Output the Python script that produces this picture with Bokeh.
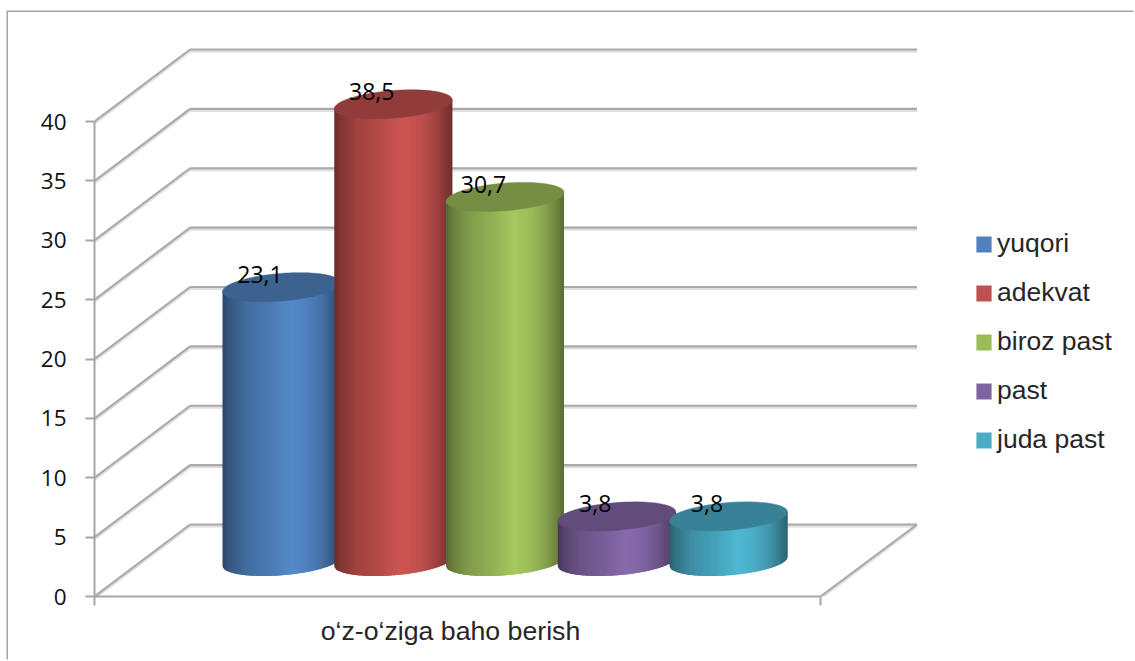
from bokeh.plotting import figure
from bokeh.embed import file_html
from bokeh.resources import INLINE
from bokeh.core.properties import value
from bokeh.models import (Range1d, LinearAxis, FixedTicker, Legend, LegendItem,
                          ColumnDataSource)
import math

# ---- data ----
category = "o‘z-o‘ziga baho berish"
series = ["yuqori", "adekvat", "biroz past", "past", "juda past"]
values = [23.1, 38.5, 30.7, 3.8, 3.8]
y_ticks = [0, 5, 10, 15, 20, 25, 30, 35, 40]
colors = ["#4F81BD", "#C0504D", "#9BBB59", "#8064A2", "#4BACC6"]

# ---- layout constants (pixels in the window) ----
PX_PER_UNIT = 11.875
AX_X, AX_Y = 94, 596         # origin of the front axes
AX_W = 726
DX, DY = 95.5, 72            # 3D depth offset
OX, OY = 8, 12               # where the chart frame starts
W, H = 1135 - OX, 661 - OY   # figure size

def X(px):  return px - AX_X

p = figure(width=W, height=H, output_backend="svg", toolbar_location=None,
           x_range=Range1d(0, OX + W - AX_X), y_range=Range1d(0, (AX_Y - OY) / PX_PER_UNIT),
           x_axis_type=None, y_axis_type=None,
           min_border_left=AX_X - OX, min_border_right=0, min_border_top=0,
           min_border_bottom=OY + H - AX_Y, outline_line_color=None)
p.grid.visible = False
p.background_fill_color = "white"
p.border_fill_color = "white"
p.margin = (OY, 0, 0, OX)
p.styles = {"box-shadow": "-1.5px -1.5px 0 0 #a3a3a3"}   # chart frame: left and top border

# value axis
yax = LinearAxis(ticker=FixedTicker(ticks=y_ticks), bounds=(0, 40))
yax.axis_line_color = "#a6a6a6"; yax.axis_line_width = 2
yax.major_tick_line_color = "#a6a6a6"; yax.major_tick_line_width = 2
yax.major_tick_out = 9; yax.major_tick_in = 0
yax.minor_tick_line_color = None
yax.major_label_standoff = 19
yax.major_label_text_font = "Open Sans"
yax.major_label_text_font_size = "22.5px"
yax.major_label_text_color = "#111111"
p.add_layout(yax, "left")

# category axis
LABEL_X = 356
xax = LinearAxis(ticker=FixedTicker(ticks=[LABEL_X], minor_ticks=[0, AX_W]), bounds=(0, AX_W))
xax.major_label_overrides = {LABEL_X: category}
xax.axis_line_color = "#a6a6a6"; xax.axis_line_width = 2
xax.major_tick_line_color = None; xax.major_tick_out = 0; xax.major_tick_in = 0
xax.minor_tick_line_color = "#a6a6a6"; xax.minor_tick_line_width = 2
xax.minor_tick_out = 9; xax.minor_tick_in = 0
xax.major_label_standoff = 10
xax.major_label_text_font = "Liberation Sans"
xax.major_label_text_font_size = "26.7px"
xax.major_label_text_color = "#262626"
p.add_layout(xax, "below")

# walls
def soft_line(xs, ys, main="#a9a9a9", shadow="#dedede"):
    p.line(xs, [y - 1.8 / PX_PER_UNIT for y in ys], line_color=shadow, line_width=2.6)
    p.line(xs, ys, line_color=main, line_width=2.1)

for t in y_ticks:
    soft_line([X(AX_X + DX), X(AX_X + AX_W + DX + 1)], [t + DY / PX_PER_UNIT] * 2)
for t in y_ticks:
    soft_line([0, X(AX_X + DX)], [t, t + DY / PX_PER_UNIT])
soft_line([AX_W, AX_W + DX + 1], [0, DY / PX_PER_UNIT])

# cylinders
RX = 59.0; RY = 13.8; TILT = 4.5
FIRST_CX = 281.0; PITCH = 111.75
BASE = (AX_Y - 561) / PX_PER_UNIT
stops = [(0, .56), (.06, .68), (.2, .84), (.4, .95), (.58, 1.07), (.72, 1.0), (.85, .86), (.95, .68), (1, .58)]

def shade(hex_c, f):
    r, g, b = [int(hex_c[i:i + 2], 16) for i in (1, 3, 5)]
    return "#%02x%02x%02x" % tuple(min(255, int(c * f)) for c in (r, g, b))

def factor(t):
    for (a, fa), (b, fb) in zip(stops, stops[1:]):
        if t <= b:
            return fa + (fb - fa) * (t - a) / (b - a)
    return stops[-1][1]

def lower(x):
    u = max(-1, min(1, x / RX))
    return BASE + (x / RX * TILT - RY * math.sqrt(1 - u * u)) / PX_PER_UNIT

N = 59
for i, v in enumerate(values):
    cx = FIRST_CX + i * PITCH
    xs, ys, fills = [], [], []
    for k in range(N):
        x0 = -RX + 2 * RX * k / N
        x1 = min(RX, -RX + 2 * RX * (k + 1) / N + 2.0)
        pts = 6
        bx = [x1 - (x1 - x0) * j / pts for j in range(pts + 1)]
        xs.append([X(cx + x0), X(cx + x1)] + [X(cx + x) for x in bx])
        ys.append([BASE + v + (x0 / RX * TILT) / PX_PER_UNIT,
                   BASE + v + (x1 / RX * TILT) / PX_PER_UNIT] + [lower(x) for x in bx])
        fills.append(shade(colors[i], factor((k + .5) / N)))
    p.patches(xs="xs", ys="ys", fill_color="fills", line_color=None,
              source=ColumnDataSource(dict(xs=xs, ys=ys, fills=fills)))
    tx, ty = [], []
    for k in range(96):
        a = 2 * math.pi * k / 96
        tx.append(X(cx + RX * math.cos(a)))
        ty.append(BASE + v + (math.cos(a) * TILT + RY * math.sin(a)) / PX_PER_UNIT)
    p.patch(tx, ty, fill_color=shade(colors[i], .76), line_color=shade(colors[i], .76), line_width=0.5)

# data labels
for i, v in enumerate(values):
    cx = FIRST_CX + i * PITCH
    p.text(x=[X(cx - 21.5)], y=[BASE + v + 12.5 / PX_PER_UNIT], text=[str(v).replace(".", ",")],
           text_font=value("Open Sans"), text_font_size="23px", text_color="#000000",
           text_align="center", text_baseline="middle")

# legend
items = []
for name, c in zip(series, colors):
    r = p.quad(left=[0], right=[0], top=[0], bottom=[0], fill_color=c, line_color=None)
    items.append(LegendItem(label=name, renderers=[r]))
leg = Legend(items=items, location=(974 - AX_X, 596 - 455), orientation="vertical",
             glyph_width=19, glyph_height=20, label_standoff=4, spacing=18, padding=0, margin=0,
             label_text_font="Liberation Sans", label_text_font_size="26.5px",
             label_text_color="#262626", border_line_color=None, background_fill_alpha=0)
p.add_layout(leg, "center")

open("out.html", "w").write(file_html(p, INLINE))
